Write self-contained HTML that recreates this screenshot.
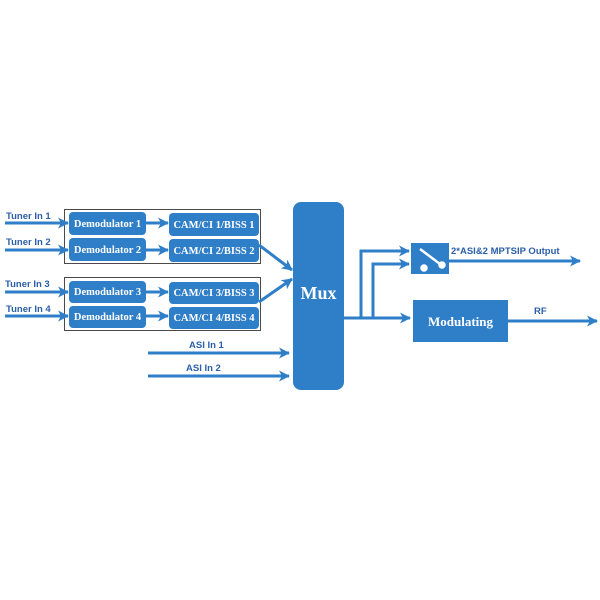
<!DOCTYPE html>
<html><head><style>body{margin:0;background:#fff}svg{display:block}</style></head><body>
<svg width="600" height="600" viewBox="0 0 600 600" xmlns="http://www.w3.org/2000/svg">
<defs>
<marker id="a" markerWidth="11" markerHeight="11" refX="10" refY="5.5" orient="auto" markerUnits="userSpaceOnUse"><path d="M0,0 L11,5.5 L0,11 L3,5.5z" fill="#2f7ec8"/></marker>
</defs>
<rect width="600" height="600" fill="#fff"/>
<g fill="none" stroke="#4a4a4a" stroke-width="1">
<rect x="64.5" y="209.5" width="196" height="54"/>
<rect x="64.5" y="277.5" width="196" height="53"/>
</g>
<g fill="#2f7ec8">
<rect x="69" y="212" width="77" height="23" rx="4"/>
<rect x="69" y="238" width="77" height="23" rx="4"/>
<rect x="69" y="281" width="77" height="22" rx="4"/>
<rect x="69" y="306" width="77" height="22" rx="4"/>
<rect x="169" y="213" width="90" height="23" rx="4"/>
<rect x="169" y="239" width="90" height="23" rx="4"/>
<rect x="169" y="282" width="90" height="22" rx="4"/>
<rect x="169" y="307" width="90" height="22" rx="4"/>
<rect x="293" y="202" width="51" height="188" rx="8"/>
<rect x="411" y="243" width="38" height="31"/>
<rect x="413" y="300" width="95" height="42"/>
</g>
<g stroke="#2f7ec8" stroke-width="3" fill="none" marker-end="url(#a)">
<line x1="5" y1="223" x2="68" y2="223"/>
<line x1="5" y1="250" x2="68" y2="250"/>
<line x1="5" y1="292" x2="68" y2="292"/>
<line x1="5" y1="316" x2="68" y2="316"/>
<line x1="146" y1="223" x2="168" y2="223"/>
<line x1="146" y1="250" x2="168" y2="250"/>
<line x1="146" y1="292" x2="168" y2="292"/>
<line x1="146" y1="316" x2="168" y2="316"/>
<line x1="259" y1="245" x2="292" y2="270"/>
<line x1="259" y1="302" x2="292" y2="279"/>
<line x1="148" y1="353" x2="289" y2="353"/>
<line x1="148" y1="376" x2="289" y2="376"/>
<line x1="343" y1="318" x2="410" y2="318"/>
<polyline points="361,318 361,251 409,251"/>
<polyline points="373,318 373,264 409,264"/>
<line x1="449" y1="261" x2="580" y2="261"/>
<line x1="508" y1="321" x2="597" y2="321"/>
</g>
<g stroke="#fff" stroke-width="2.5" fill="#fff">
<line x1="420" y1="249" x2="440" y2="264"/>
<circle cx="442" cy="265" r="2.5"/><circle cx="424" cy="268" r="2.5"/>
</g>
<g font-family="Liberation Serif, serif" font-weight="bold" font-size="10.5" fill="#fff" text-anchor="middle">
<text x="107.5" y="227">Demodulator 1</text>
<text x="107.5" y="253">Demodulator 2</text>
<text x="107.5" y="295">Demodulator 3</text>
<text x="107.5" y="320">Demodulator 4</text>
<text x="214" y="228">CAM/CI 1/BISS 1</text>
<text x="214" y="254">CAM/CI 2/BISS 2</text>
<text x="214" y="296">CAM/CI 3/BISS 3</text>
<text x="214" y="321">CAM/CI 4/BISS 4</text>
<text x="318.5" y="299" font-size="18">Mux</text>
<text x="460.5" y="326" font-size="13">Modulating</text>
</g>
<g font-family="Liberation Sans, sans-serif" font-weight="bold" font-size="9.5" fill="#2b5fa8">
<text x="6" y="219">Tuner In 1</text>
<text x="6" y="245">Tuner In 2</text>
<text x="5" y="287">Tuner In 3</text>
<text x="6" y="312">Tuner In 4</text>
<text x="189" y="348">ASI In 1</text>
<text x="186" y="371">ASI In 2</text>
<text x="451" y="254">2*ASI&amp;2 MPTSIP Output</text>
<text x="534" y="314">RF</text>
</g>
</svg>
</body></html>
